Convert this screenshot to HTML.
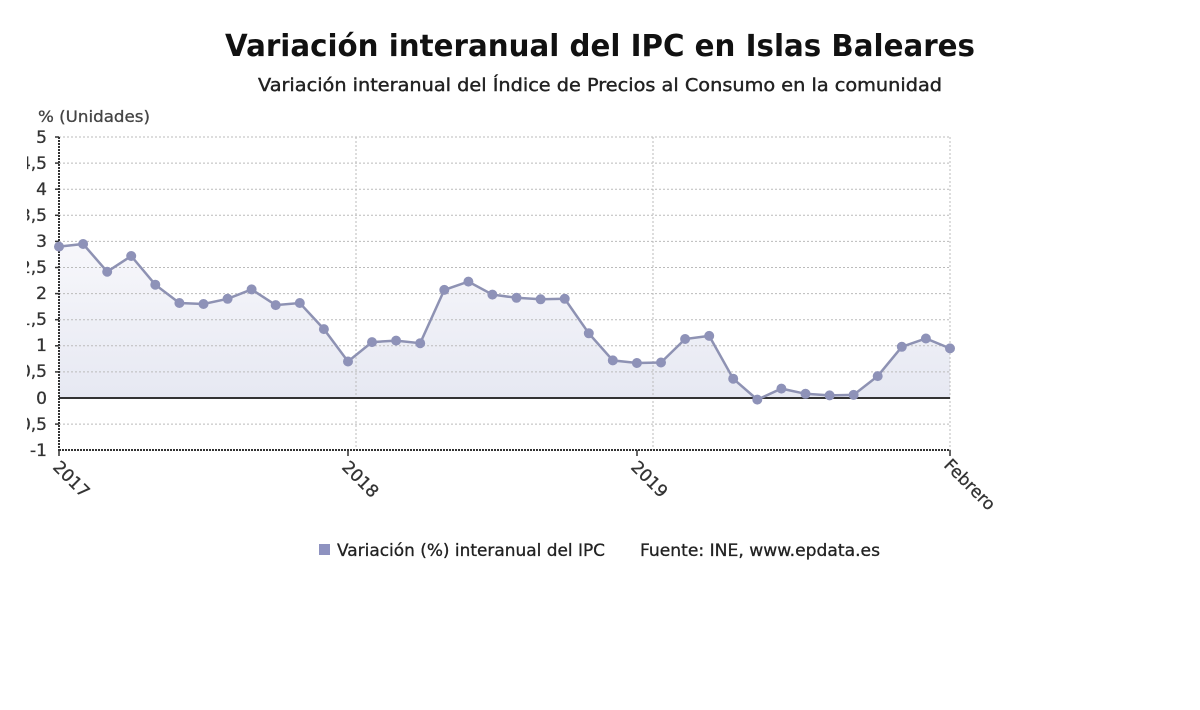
<!DOCTYPE html>
<html><head><meta charset="utf-8"><style>
body{margin:0;background:#fff;width:1200px;height:705px;overflow:hidden;font-family:"Liberation Sans","DejaVu Sans",sans-serif}
</style></head><body>
<svg width="1200" height="705" viewBox="0 0 1200 705" xmlns="http://www.w3.org/2000/svg" font-family="'DejaVu Sans','Liberation Sans',sans-serif">
<defs>
<linearGradient id="g" x1="0" y1="0" x2="0" y2="1">
<stop offset="0" stop-color="#f7f7fb"/><stop offset="1" stop-color="#e6e8f2"/></linearGradient>
<clipPath id="lc"><rect x="27" y="100" width="100" height="400"/></clipPath>
</defs>
<text x="225" y="56" textLength="750" lengthAdjust="spacingAndGlyphs" font-size="30" font-weight="bold" fill="#111">Variación interanual del IPC en Islas Baleares</text>
<text x="258" y="91" textLength="684" lengthAdjust="spacingAndGlyphs" font-size="18" fill="#222" stroke="#222" stroke-width="0.4">Variación interanual del Índice de Precios al Consumo en la comunidad</text>
<text x="38" y="122" textLength="112" lengthAdjust="spacingAndGlyphs" font-size="16" fill="#444" stroke="#444" stroke-width="0.3">% (Unidades)</text>
<path d="M59 398 L59 246.6 L83.1 244 L107.2 271.7 L131.2 256 L155.3 284.7 L179.4 303 L203.5 304 L227.6 298.8 L251.6 289.4 L275.7 305.1 L299.8 303 L323.9 329.1 L348 361.5 L372 342.1 L396.1 340.6 L420.2 343.2 L444.3 289.9 L468.4 281.6 L492.4 294.6 L516.5 297.8 L540.6 299.3 L564.7 298.8 L588.8 333.3 L612.8 360.4 L636.9 363 L661 362.5 L685.1 339 L709.2 335.9 L733.2 378.7 L757.3 399.6 L781.4 388.6 L805.5 393.8 L829.6 395.4 L853.6 394.9 L877.7 376.1 L901.8 346.8 L925.9 338.5 L950 348.4 L950 398 Z" fill="url(#g)"/>
<g stroke="#bbb" stroke-dasharray="2,2" stroke-width="1">
<line x1="59" x2="950" y1="137" y2="137"/><line x1="59" x2="950" y1="163.1" y2="163.1"/><line x1="59" x2="950" y1="189.2" y2="189.2"/><line x1="59" x2="950" y1="215.3" y2="215.3"/><line x1="59" x2="950" y1="241.4" y2="241.4"/><line x1="59" x2="950" y1="267.5" y2="267.5"/><line x1="59" x2="950" y1="293.6" y2="293.6"/><line x1="59" x2="950" y1="319.7" y2="319.7"/><line x1="59" x2="950" y1="345.8" y2="345.8"/><line x1="59" x2="950" y1="371.9" y2="371.9"/><line x1="59" x2="950" y1="424.1" y2="424.1"/>
<line x1="356" x2="356" y1="137" y2="450"/><line x1="653" x2="653" y1="137" y2="450"/><line x1="950" x2="950" y1="137" y2="450"/>
</g>
<line x1="59" x2="950" y1="450" y2="450" stroke="#333" stroke-width="2" stroke-dasharray="2,1"/>
<line x1="59" x2="59" y1="137" y2="451" stroke="#333" stroke-width="2" stroke-dasharray="2,1"/>
<line x1="59" x2="950" y1="398" y2="398" stroke="#333" stroke-width="2"/>
<g stroke="#333" stroke-width="1.5">
<line x1="55" x2="59" y1="137" y2="137"/><line x1="55" x2="59" y1="163.1" y2="163.1"/><line x1="55" x2="59" y1="189.2" y2="189.2"/><line x1="55" x2="59" y1="215.3" y2="215.3"/><line x1="55" x2="59" y1="241.4" y2="241.4"/><line x1="55" x2="59" y1="267.5" y2="267.5"/><line x1="55" x2="59" y1="293.6" y2="293.6"/><line x1="55" x2="59" y1="319.7" y2="319.7"/><line x1="55" x2="59" y1="345.8" y2="345.8"/><line x1="55" x2="59" y1="371.9" y2="371.9"/><line x1="55" x2="59" y1="424.1" y2="424.1"/>
<line x1="59" x2="59" y1="450" y2="456"/><line x1="348" x2="348" y1="450" y2="456"/><line x1="637" x2="637" y1="450" y2="456"/><line x1="950" x2="950" y1="450" y2="456"/>
</g>
<g clip-path="url(#lc)" font-size="17" fill="#333" stroke="#333" stroke-width="0.3" text-anchor="end">
<text x="47" y="143">5</text><text x="47" y="169">4,5</text><text x="47" y="195">4</text><text x="47" y="221">3,5</text><text x="47" y="247">3</text><text x="47" y="273">2,5</text><text x="47" y="299">2</text><text x="47" y="325">1,5</text><text x="47" y="351">1</text><text x="47" y="377">0,5</text><text x="47" y="404">0</text><text x="47" y="430">-0,5</text><text x="47" y="456">-1</text>
</g>
<g font-size="17" fill="#333" stroke="#333" stroke-width="0.3">
<text transform="translate(52,468) rotate(45)">2017</text>
<text transform="translate(341,468) rotate(45)">2018</text>
<text transform="translate(630,468) rotate(45)">2019</text>
<text transform="translate(943,466) rotate(45)">Febrero</text>
</g>
<polyline fill="none" stroke="#8e92b3" stroke-width="2.5" points="59,246.6 83.1,244 107.2,271.7 131.2,256 155.3,284.7 179.4,303 203.5,304 227.6,298.8 251.6,289.4 275.7,305.1 299.8,303 323.9,329.1 348,361.5 372,342.1 396.1,340.6 420.2,343.2 444.3,289.9 468.4,281.6 492.4,294.6 516.5,297.8 540.6,299.3 564.7,298.8 588.8,333.3 612.8,360.4 636.9,363 661,362.5 685.1,339 709.2,335.9 733.2,378.7 757.3,399.6 781.4,388.6 805.5,393.8 829.6,395.4 853.6,394.9 877.7,376.1 901.8,346.8 925.9,338.5 950,348.4"/>
<path fill="none" stroke="#8e92b8" stroke-width="10" stroke-linecap="round" d="M59 246.6h0M83.1 244h0M107.2 271.7h0M131.2 256h0M155.3 284.7h0M179.4 303h0M203.5 304h0M227.6 298.8h0M251.6 289.4h0M275.7 305.1h0M299.8 303h0M323.9 329.1h0M348 361.5h0M372 342.1h0M396.1 340.6h0M420.2 343.2h0M444.3 289.9h0M468.4 281.6h0M492.4 294.6h0M516.5 297.8h0M540.6 299.3h0M564.7 298.8h0M588.8 333.3h0M612.8 360.4h0M636.9 363h0M661 362.5h0M685.1 339h0M709.2 335.9h0M733.2 378.7h0M757.3 399.6h0M781.4 388.6h0M805.5 393.8h0M829.6 395.4h0M853.6 394.9h0M877.7 376.1h0M901.8 346.8h0M925.9 338.5h0M950 348.4h0"/>
<rect x="319" y="544" width="11" height="11" fill="#8e92c0"/>
<text x="337" y="556" textLength="268" lengthAdjust="spacingAndGlyphs" font-size="17" fill="#222" stroke="#222" stroke-width="0.3">Variación (%) interanual del IPC</text>
<text x="640" y="556" textLength="240" lengthAdjust="spacingAndGlyphs" font-size="17" fill="#222" stroke="#222" stroke-width="0.3">Fuente: INE, www.epdata.es</text>
</svg>
</body></html>
